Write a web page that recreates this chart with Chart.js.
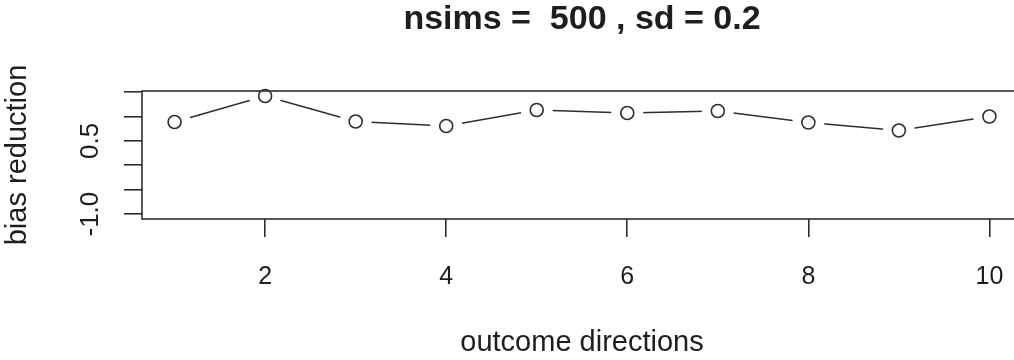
<!DOCTYPE html>
<html>
<head>
<meta charset="utf-8">
<script src="https://cdn.jsdelivr.net/npm/chart.js@4/dist/chart.umd.min.js"></script>
<style>
  html, body { margin: 0; padding: 0; background: #fff; overflow: hidden; }
  #wrap { width: 1030px; height: 360px; }
</style>
</head>
<body>
<div id="wrap"><canvas id="chart" width="1030" height="360"></canvas></div>
<script>
// data
const directions = [1, 2, 3, 4, 5, 6, 7, 8, 9, 10];
const biasReduction = [0.885, 1.418, 0.895, 0.803, 1.131, 1.07, 1.11, 0.875, 0.711, 0.998];
const xTicks = [2, 4, 6, 8, 10];
const yTicks = [-1.0, -0.5, 0.0, 0.5, 1.0, 1.5];
const yLabels = [-1.0, 0.5];

const titleText = 'nsims =  500 , sd = 0.2';
const ink = '#2e2e2e';
const textInk = '#1e1e1e';
const font = 'Liberation Sans, Arial, sans-serif';

const points = directions.map((d, i) => ({ x: d, y: biasReduction[i] }));

// R style: box, rotated y labels, title over the plot region
const rPlot = {
  id: 'rPlot',
  afterDatasetsDraw(chart) {
    const { ctx, chartArea } = chart;
    ctx.save();
    ctx.strokeStyle = ink;
    ctx.lineWidth = 1.6;
    ctx.strokeRect(chartArea.left, chartArea.top, chartArea.right - chartArea.left, chartArea.bottom - chartArea.top);
    ctx.restore();
  },
  afterDraw(chart) {
    const { ctx, chartArea } = chart;
    const y = chart.scales.y;
    ctx.save();
    ctx.fillStyle = textInk;
    ctx.font = '26px ' + font;
    ctx.textAlign = 'center';
    ctx.textBaseline = 'middle';
    yLabels.forEach(v => {
      ctx.save();
      ctx.translate(91, y.getPixelForValue(v));
      ctx.rotate(-Math.PI / 2);
      ctx.fillText(v.toFixed(1), 0, 0);
      ctx.restore();
    });
    ctx.font = 'bold 34px ' + font;
    ctx.fillText(titleText, (chartArea.left + chartArea.right) / 2, 20);
    ctx.restore();
  }
};

new Chart(document.getElementById('chart'), {
  type: 'scatter',
  data: {
    datasets: [
      {
        // open circles
        data: points,
        order: 1,
        showLine: false,
        clip: false,
        pointRadius: 6.5,
        pointBorderWidth: 1.6,
        pointBorderColor: ink,
        pointBackgroundColor: 'rgba(0,0,0,0)'
      },
      {
        // connecting line, white discs leave the type="b" gaps
        data: points,
        order: 2,
        showLine: true,
        borderColor: ink,
        borderWidth: 1.6,
        pointRadius: 16,
        pointBorderWidth: 0,
        pointBorderColor: 'rgba(0,0,0,0)',
        pointBackgroundColor: '#ffffff'
      }
    ]
  },
  options: {
    responsive: false,
    animation: false,
    // plot box runs past the window's right edge, as in the original crop
    layout: { autoPadding: false, padding: { top: 91, right: 8, left: 0, bottom: 0 } },
    plugins: {
      legend: { display: false },
      tooltip: { enabled: false },
      title: { display: false }
    },
    scales: {
      x: {
        type: 'linear',
        min: 0.64,
        max: 10.36,
        afterBuildTicks: (scale) => { scale.ticks = xTicks.map(v => ({ value: v })); },
        afterFit: (scale) => { scale.height = 141; },
        border: { display: false },
        grid: { drawOnChartArea: false, drawTicks: true, tickLength: 18, color: ink, lineWidth: 1.6 },
        ticks: {
          color: textInk,
          font: { family: font, size: 25 },
          padding: 25,
          maxRotation: 0,
          callback: (v) => String(v)
        },
        title: {
          display: true,
          text: 'outcome directions',
          color: textInk,
          font: { family: font, size: 29 },
          padding: { top: 0, bottom: 0 }
        }
      },
      y: {
        min: -1.1,
        max: 1.52,
        afterBuildTicks: (scale) => { scale.ticks = yTicks.map(v => ({ value: v })); },
        afterFit: (scale) => { scale.width = 142; },
        border: { display: false },
        grid: { drawOnChartArea: false, drawTicks: true, tickLength: 18, color: ink, lineWidth: 1.6 },
        ticks: { callback: () => '' },
        title: {
          display: true,
          text: 'bias reduction',
          color: textInk,
          font: { family: font, size: 29 },
          padding: { top: 1, bottom: 0 }
        }
      }
    }
  },
  plugins: [rPlot]
});
</script>
</body>
</html>
